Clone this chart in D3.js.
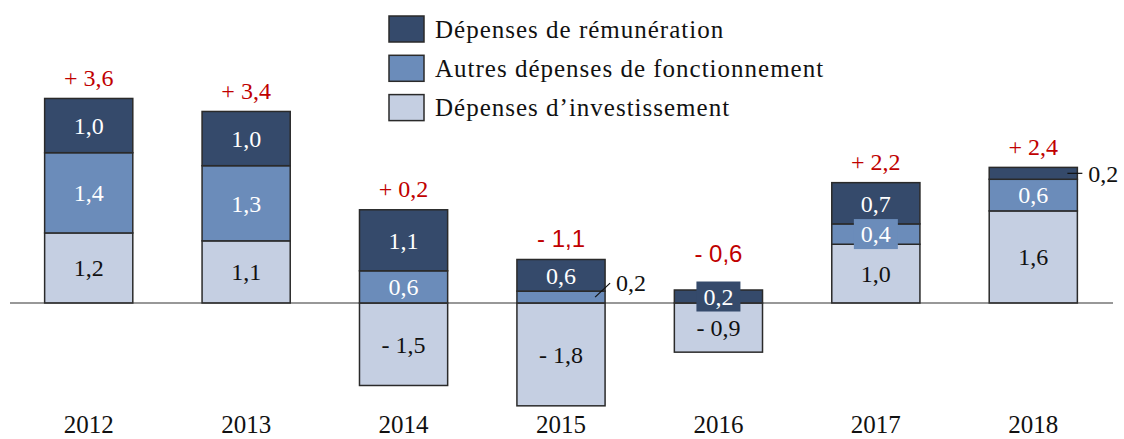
<!DOCTYPE html>
<html>
<head>
<meta charset="utf-8">
<script src="https://cdn.jsdelivr.net/npm/d3@7"></script>
<style>
  body { margin: 0; background: #fff; }
  svg { display: block; }
</style>
</head>
<body>
<div id="chart"></div>
<script>
// ===== Data =====
const years = ['2012', '2013', '2014', '2015', '2016', '2017', '2018'];
const remuneration = [0.96, 0.96, 1.08, 0.56, 0.23, 0.73, 0.21];
const autres = [1.42, 1.33, 0.57, 0.21, 0.0, 0.36, 0.56];
const investissement = [1.24, 1.10, -1.46, -1.82, -0.87, 1.04, 1.63];
const totals = [3.6, 3.4, 0.2, -1.1, -0.6, 2.2, 2.4];

const seriesNames = {
  rem: 'Dépenses de rémunération',
  autres: 'Autres dépenses de fonctionnement',
  inv: 'Dépenses d\u2019investissement'
};
// labels drawn outside the bar with a leader line
const callouts = [
  { year: '2015', key: 'autres', dx: 15, dy: -14 },
  { year: '2018', key: 'rem', dx: 15, dy: 0 }
];

const width = 1124, height = 439;
const serif = '"Liberation Serif", "DejaVu Serif", serif';
const sans = '"Liberation Sans", Arial, sans-serif';
const colors = { rem: '#354a6b', autres: '#6b8cba', inv: '#c5cfe2' };
const textColors = { rem: '#fff', autres: '#fff', inv: '#111' };

const rows = years.map((y, i) => ({
  year: y, rem: remuneration[i], autres: autres[i], inv: investissement[i], total: totals[i]
}));

const keys = ['inv', 'autres', 'rem'];
const stack = d3.stack().keys(keys).offset(d3.stackOffsetDiverging);
const series = stack(rows);

const svg = d3.select('#chart').append('svg')
  .attr('width', width).attr('height', height);

const x = d3.scaleBand().domain(years).range([10, 1112]).paddingInner(0.44).paddingOuter(0.22);
const y = d3.scaleLinear().domain([-2, 4]).range([416, 77]);

const fmt = v => {
  const s = Math.abs(v).toFixed(1).replace('.', ',');
  return v < 0 ? '- ' + s : s;
};

// Bars
const layers = svg.append('g').selectAll('g')
  .data(series)
  .join('g')
  .attr('fill', d => colors[d.key]);

layers.selectAll('rect')
  .data(d => d.map(v => ({ key: d.key, v })))
  .join('rect')
  .filter(d => d.v[1] - d.v[0] !== 0)
  .attr('x', d => x(d.v.data.year))
  .attr('width', x.bandwidth())
  .attr('y', d => y(Math.max(d.v[0], d.v[1])))
  .attr('height', d => Math.abs(y(d.v[0]) - y(d.v[1])))
  .attr('stroke', '#2a2a2a')
  .attr('stroke-width', 1.5);

// Zero line
svg.append('line')
  .attr('x1', 10).attr('x2', 1113)
  .attr('y1', y(0)).attr('y2', y(0))
  .attr('stroke', '#333').attr('stroke-width', 1.2);

// Segment labels
const labelG = svg.append('g');
const boxTops = {};
series.forEach(s => {
  s.forEach(v => {
    const val = v.data[s.key];
    if (val === 0) return;
    const yr = v.data.year;
    const cx = x(yr) + x.bandwidth() / 2;
    const cy = (y(v[0]) + y(v[1])) / 2;
    const segH = Math.abs(y(v[0]) - y(v[1]));
    const co = callouts.find(c => c.year === yr && c.key === s.key);
    if (co) {
      const x0 = x(yr) + x.bandwidth() - 10;
      labelG.append('line')
        .attr('x1', x0).attr('y1', cy)
        .attr('x2', x0 + co.dx).attr('y2', cy + co.dy)
        .attr('stroke', '#111').attr('stroke-width', 1.2);
      labelG.append('text')
        .attr('x', x0 + co.dx + 6).attr('y', cy + co.dy)
        .attr('dy', '0.35em')
        .style('font-family', serif).style('font-size', '24px')
        .attr('fill', '#111')
        .text(fmt(val));
      return;
    }
    if (segH < 24) {
      labelG.append('rect')
        .attr('x', cx - 22).attr('y', cy - 15)
        .attr('width', 44).attr('height', 30)
        .attr('fill', colors[s.key]);
      boxTops[yr] = Math.min(boxTops[yr] ?? Infinity, cy - 15);
    }
    labelG.append('text')
      .attr('x', cx).attr('y', cy)
      .attr('dy', '0.35em')
      .attr('text-anchor', 'middle')
      .style('font-family', serif).style('font-size', '24px')
      .attr('fill', textColors[s.key])
      .text(fmt(val));
  });
});

// Totals above bars
rows.forEach(r => {
  const top = d3.max(series, s => s.find(v => v.data.year === r.year)[1]);
  let ty = y(top) - 21;
  if (boxTops[r.year] !== undefined && boxTops[r.year] < y(top)) ty = boxTops[r.year] - 28;
  svg.append('text')
    .attr('x', x(r.year) + x.bandwidth() / 2)
    .attr('y', ty)
    .attr('dy', '0.35em')
    .attr('text-anchor', 'middle')
    .style('font-family', r.total < 0 ? sans : serif)
    .style('font-size', '24px')
    .attr('fill', '#c00000')
    .text((r.total < 0 ? '- ' : '+ ') + Math.abs(r.total).toFixed(1).replace('.', ','));
});

// Year labels
svg.append('g').selectAll('text')
  .data(years)
  .join('text')
  .attr('x', d => x(d) + x.bandwidth() / 2)
  .attr('y', 433)
  .attr('text-anchor', 'middle')
  .style('font-family', serif).style('font-size', '25px')
  .attr('fill', '#111')
  .text(d => d);

// Legend
const legend = svg.append('g').attr('transform', 'translate(389,16)');
['rem', 'autres', 'inv'].forEach((k, i) => {
  const g = legend.append('g').attr('transform', `translate(0,${i * 39.3})`);
  g.append('rect')
    .attr('width', 35).attr('height', 26)
    .attr('fill', colors[k]).attr('stroke', '#2a2a2a').attr('stroke-width', 1.5);
  g.append('text')
    .attr('x', 46).attr('y', 13).attr('dy', '0.35em')
    .style('font-family', serif).style('font-size', '25px')
    .style('letter-spacing', '1px')
    .attr('fill', '#111')
    .text(seriesNames[k]);
});
</script>
</body>
</html>
